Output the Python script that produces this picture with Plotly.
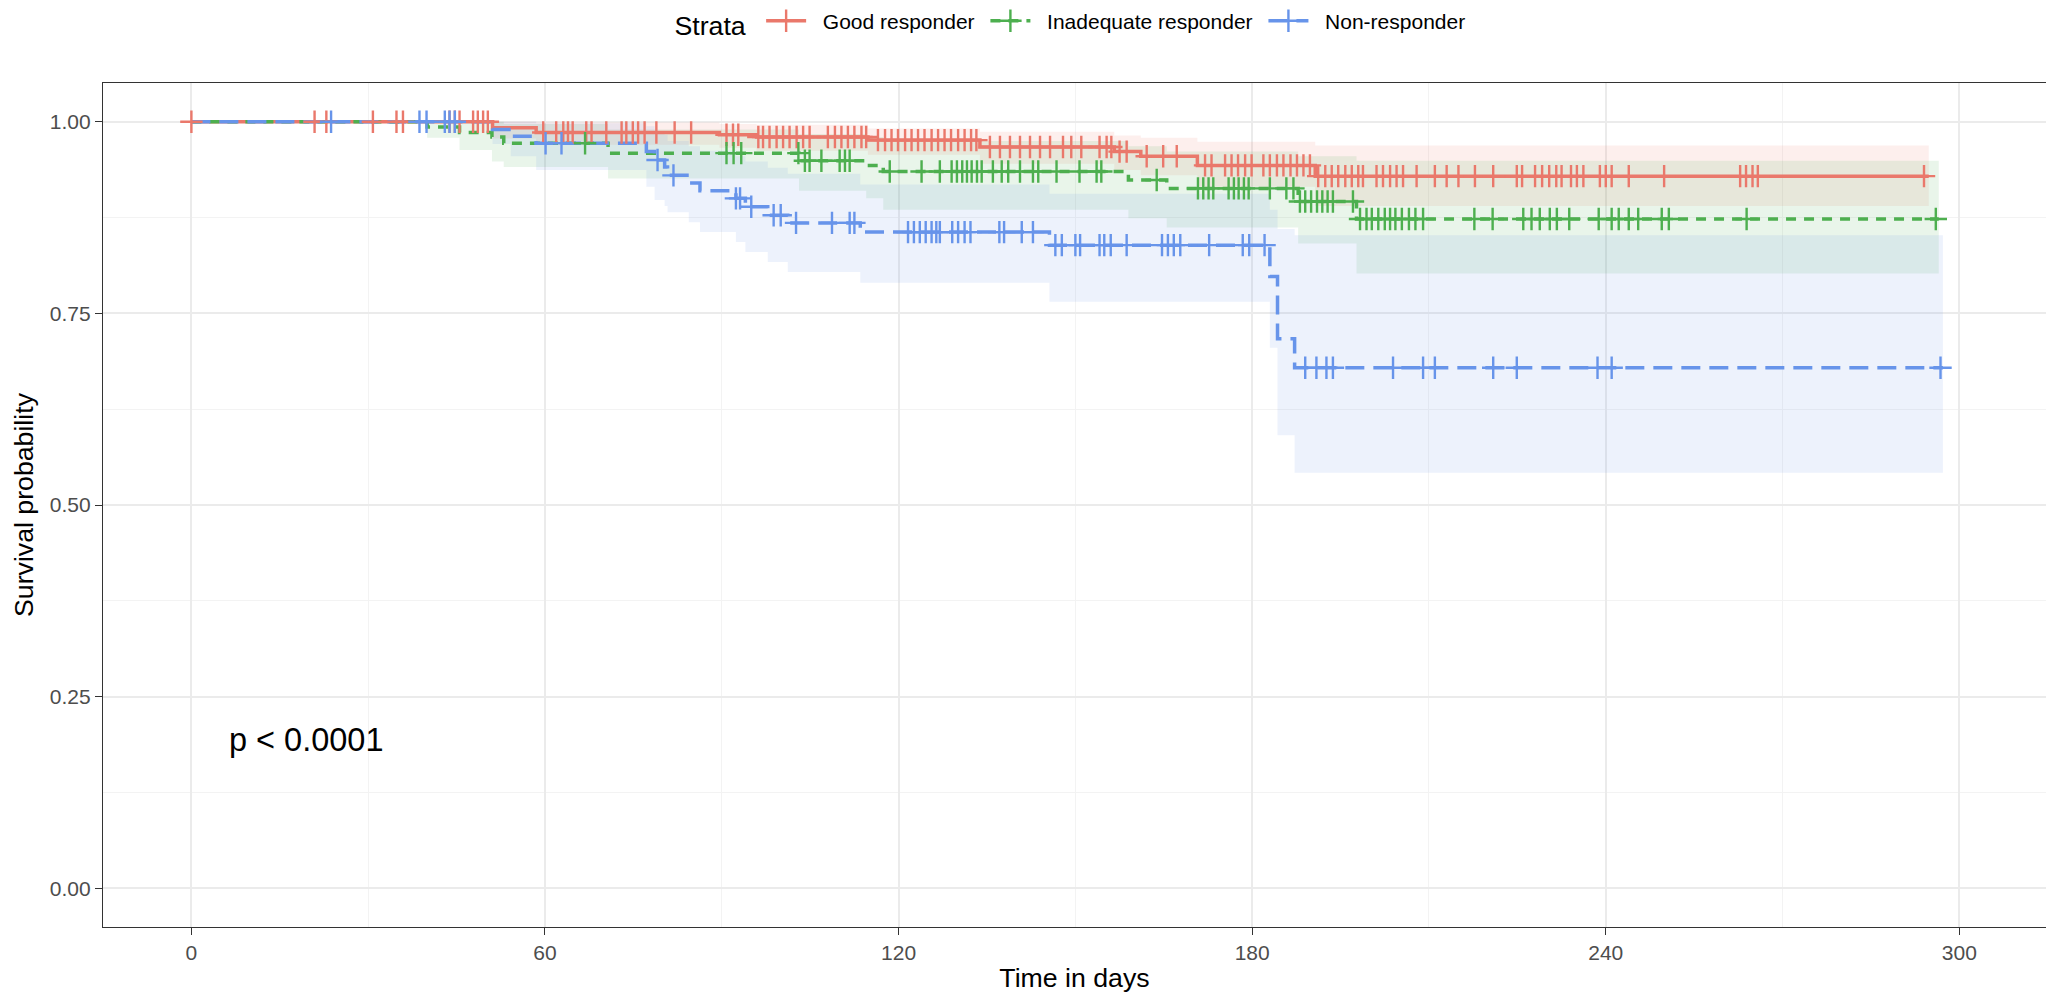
import numpy as np
import plotly.graph_objects as go

# Kaplan-Meier estimates per stratum: step start times, survival, 95% CI bounds
strata = ["Good responder", "Inadequate responder", "Non-responder"]

good_t = [0, 51.1, 58.5, 89.6, 95.9, 114.8, 133.8, 156.6, 161.1, 170.7, 190.7]
good_s = [1.000, 0.992, 0.986, 0.983, 0.980, 0.976, 0.967, 0.961, 0.955, 0.943, 0.929]
good_lo = [1.000, 0.978, 0.970, 0.966, 0.962, 0.957, 0.945, 0.937, 0.930, 0.915, 0.890]
good_hi = [1.000, 1.000, 0.999, 0.997, 0.996, 0.991, 0.987, 0.982, 0.979, 0.974, 0.969]
good_end = 294.8
good_cens = [0, 20.9, 22.9, 30.8, 34.8, 35.9, 43.8, 44.7, 45.5, 47.8, 48.6, 49.5, 50.3,
             59.7, 61.9, 63.1, 63.9, 64.7, 67.0, 67.9, 70.4, 73.0, 73.8, 74.9, 75.8, 76.9,
             78.9, 82.0, 84.8, 90.8, 91.9, 92.8, 96.2, 97.0, 98.1, 99.3, 100.4, 101.5, 102.7,
             103.8, 104.9, 108.0, 109.2, 110.3, 111.4, 112.5, 113.7, 114.5, 116.5, 117.7,
             118.8, 119.9, 121.1, 122.2, 123.3, 124.4, 125.6, 126.7, 127.8, 128.9, 130.1,
             131.2, 132.3, 133.2, 135.5, 137.2, 138.9, 140.6, 142.3, 144.0, 145.7, 147.9,
             149.3, 151.0, 154.1, 155.3, 156.1, 157.5, 158.7, 162.1, 164.9, 167.2, 172.0,
             173.1, 175.4, 176.5, 177.6, 178.8, 179.9, 181.9, 183.0, 184.2, 185.3, 186.5,
             187.6, 188.7, 189.8, 191.2, 192.4, 193.5, 194.6, 195.8, 196.9, 198.0, 198.8,
             201.1, 202.2, 203.4, 204.5, 205.6, 207.9, 211.0, 213.0, 215.0, 217.8, 220.9,
             224.9, 225.8, 228.0, 229.2, 230.4, 231.6, 232.5, 234.1, 235.1, 236.2, 239.0,
             240.0, 241.0, 243.9, 249.9, 262.8, 263.8, 264.9, 265.8, 294.0]

inad_t = [0, 40.0, 45.5, 51.0, 53.0, 70.7, 103.1, 114.5, 117.4, 159.0, 165.5, 187.8, 197.7]
inad_s = [1.000, 0.993, 0.986, 0.980, 0.972, 0.959, 0.949, 0.943, 0.935, 0.924, 0.913, 0.896, 0.873]
inad_lo = [1.000, 0.979, 0.963, 0.948, 0.941, 0.926, 0.910, 0.900, 0.885, 0.874, 0.862, 0.841, 0.802]
inad_hi = [1.000, 1.000, 1.000, 1.000, 0.997, 0.990, 0.984, 0.980, 0.975, 0.968, 0.961, 0.955, 0.949]
inad_end = 296.5
inad_cens = [66.8, 90.8, 92.0, 93.3, 103.0, 104.1, 104.9, 106.9, 110.0, 110.9, 111.7, 118.5,
             123.9, 127.0, 129.0, 129.9, 130.8, 131.6, 132.4, 133.3, 134.1, 136.0, 137.5,
             138.6, 140.6, 142.8, 143.7, 146.8, 150.7, 153.6, 154.4, 163.8, 170.8, 171.7,
             172.6, 173.4, 176.0, 176.9, 177.7, 178.6, 179.4, 183.0, 185.8, 187.0, 188.1,
             189.0, 190.0, 191.0, 191.9, 192.8, 193.7, 197.1, 198.3, 199.4, 200.3, 201.4,
             202.5, 203.4, 204.3, 205.4, 206.6, 207.7, 209.0, 217.7, 220.8, 226.0, 227.4,
             228.8, 230.5, 231.7, 233.8, 238.8, 241.0, 242.2, 243.9, 245.5, 249.5, 250.7,
             263.9, 296.0]

non_t = [0, 51.1, 54.2, 58.5, 77.2, 78.6, 80.3, 80.8, 84.4, 86.3, 92.4, 94.0, 97.8, 101.2,
         113.5, 145.6, 183.0, 184.3, 187.2]
non_s = [1.000, 0.990, 0.981, 0.972, 0.961, 0.950, 0.941, 0.930, 0.920, 0.910, 0.900, 0.889,
         0.878, 0.868, 0.856, 0.839, 0.798, 0.717, 0.679]
non_lo = [1.000, 0.971, 0.955, 0.937, 0.915, 0.898, 0.890, 0.882, 0.869, 0.856, 0.843, 0.830,
          0.817, 0.804, 0.790, 0.765, 0.705, 0.591, 0.542]
non_hi = [1.000, 1.000, 1.000, 0.998, 0.994, 0.988, 0.983, 0.975, 0.968, 0.962, 0.955, 0.948,
          0.940, 0.932, 0.918, 0.906, 0.885, 0.860, 0.852]
non_end = 297.2
non_cens = [23.7, 38.7, 39.9, 43.0, 43.8, 44.7, 60.1, 62.8, 79.1, 81.8, 92.4, 93.1, 95.0,
            98.8, 100.0, 102.6, 108.7, 111.7, 112.5, 121.6, 122.6, 123.6, 124.6, 125.6,
            126.4, 127.0, 129.1, 130.1, 131.2, 132.2, 137.1, 137.9, 140.9, 142.8, 146.6,
            147.7, 150.0, 150.8, 154.1, 154.9, 156.0, 158.7, 164.7, 165.7, 166.7, 167.8,
            172.7, 178.4, 179.5, 182.1, 189.0, 190.9, 192.6, 193.7, 203.9, 209.0, 211.0,
            220.9, 224.9, 238.6, 241.0, 296.8]

colors = ["#EA786B", "#4DAF4F", "#6794EA"]
fills = ["rgba(236,122,109,0.12)", "rgba(77,175,79,0.12)", "rgba(103,148,234,0.12)"]
dashes = ["solid", "10px,8px", "19px,9px"]

series = [
    (good_t, good_s, good_lo, good_hi, good_end, good_cens),
    (inad_t, inad_s, inad_lo, inad_hi, inad_end, inad_cens),
    (non_t, non_s, non_lo, non_hi, non_end, non_cens),
]

fig = go.Figure()

# confidence bands (drawn first, beneath the curves)
for (t, s, lo, hi, end, cens), fc in zip(series, fills):
    xs = list(t) + [end]
    fig.add_trace(go.Scatter(x=xs, y=list(hi) + [hi[-1]], mode="lines",
                             line=dict(width=0, shape="hv"), hoverinfo="skip",
                             showlegend=False))
    fig.add_trace(go.Scatter(x=xs, y=list(lo) + [lo[-1]], mode="lines",
                             line=dict(width=0, shape="hv"), fill="tonexty",
                             fillcolor=fc, hoverinfo="skip", showlegend=False))

# survival step curves
for (t, s, lo, hi, end, cens), col, dsh in zip(series, colors, dashes):
    fig.add_trace(go.Scatter(x=list(t) + [end], y=list(s) + [s[-1]], mode="lines",
                             line=dict(color=col, width=3.5, shape="hv", dash=dsh),
                             showlegend=False))

# censoring marks placed on the curve value at each censoring time
for (t, s, lo, hi, end, cens), col in zip(series, colors):
    idx = np.searchsorted(np.array(t), np.array(cens), side="right") - 1
    fig.add_trace(go.Scatter(x=cens, y=np.array(s)[idx], mode="markers",
                             marker=dict(symbol="cross-thin", size=16,
                                         line=dict(color=col, width=2.4)),
                             showlegend=False))

# legend entries (small leading gap between key and label)
for name, col, dsh in zip(strata, colors, dashes):
    fig.add_trace(go.Scatter(x=[None], y=[None], mode="lines+markers",
                             name="\u00a0\u00a0" + name + "\u00a0",
                             line=dict(color=col, width=3.5, dash=dsh),
                             marker=dict(symbol="cross-thin", size=16,
                                         line=dict(color=col, width=2.4))))

fig.add_annotation(x=6.0, y=0.193, xref="x", yref="y", text="p < 0.0001",
                   showarrow=False, xanchor="left", yanchor="middle",
                   font=dict(size=32.5, color="black", family="Liberation Sans"))

fig.update_layout(
    width=2046, height=993, autosize=False,
    margin=dict(l=103, r=0, t=83, b=66),
    paper_bgcolor="white", plot_bgcolor="white",
    font=dict(family="Liberation Sans", color="black"),
    legend=dict(orientation="h", x=0.5, xanchor="center", y=1.071, yanchor="middle",
                traceorder="normal",
                title=dict(text="Strata ", font=dict(size=26.7, color="black"), side="left"),
                font=dict(size=21, color="black"), itemwidth=40),
    xaxis=dict(range=[-15.0, 314.7], tickmode="linear", tick0=0, dtick=60,
               showgrid=True, gridcolor="#EBEBEB", gridwidth=1.5,
               minor=dict(tick0=0, dtick=30, showgrid=True, gridcolor="#F3F3F3", gridwidth=1),
               zeroline=False, showline=True, linecolor="#333333", linewidth=1.4,
               mirror=True, ticks="outside", ticklen=7, tickwidth=1.4, tickcolor="#333333",
               tickfont=dict(size=21, color="#4D4D4D"),
               title=dict(text="Time in days", font=dict(size=26.7, color="black"), standoff=10)),
    yaxis=dict(range=[-0.0505, 1.0505], tickmode="array",
               tickvals=[0, 0.25, 0.5, 0.75, 1.0],
               ticktext=["0.00", "0.25", "0.50", "0.75", "1.00"],
               showgrid=True, gridcolor="#EBEBEB", gridwidth=1.5,
               minor=dict(tickvals=[0.125, 0.375, 0.625, 0.875], showgrid=True,
                          gridcolor="#F3F3F3", gridwidth=1),
               zeroline=False, showline=True, linecolor="#333333", linewidth=1.4,
               mirror=False, ticks="outside", ticklen=7, tickwidth=1.4, tickcolor="#333333",
               tickfont=dict(size=21, color="#4D4D4D"),
               title=dict(text="Survival probability", font=dict(size=26.7, color="black"),
                          standoff=8)),
)

fig.write_html("out.html")
